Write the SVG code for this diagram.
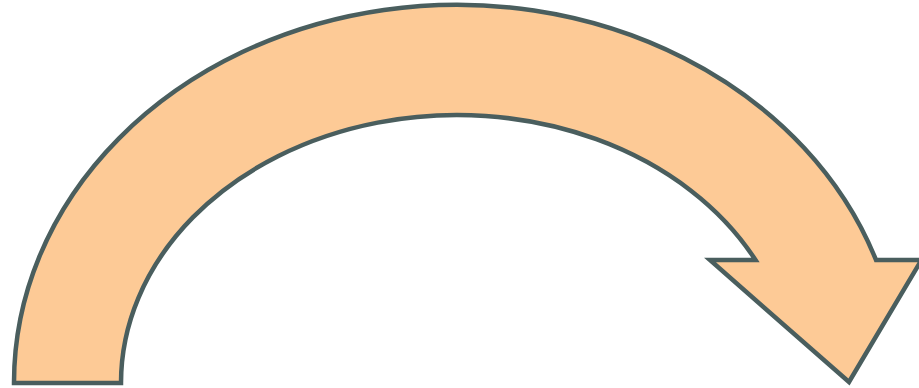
<svg xmlns="http://www.w3.org/2000/svg" width="919" height="388" viewBox="0 0 919 388">
<style>.arrow{fill:#fdca96;stroke:#4a5e5e;stroke-width:4.5;stroke-linejoin:miter}</style>
<g id="curved-arrow">
<path class="arrow" d="M 14 383 A 443 378 0 0 1 876 260 L 921.5 260 L 849 382 L 710 260 L 755.5 260 A 336 268 0 0 0 121 383 Z"/>
</g>
</svg>
